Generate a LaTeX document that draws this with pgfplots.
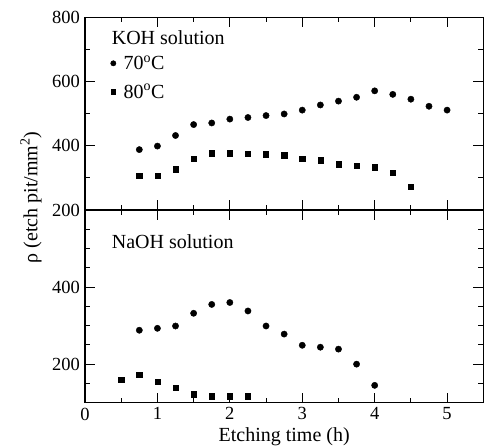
\documentclass[border=0pt]{standalone}
\usepackage{fontspec}
\setmainfont{Liberation Serif}
\usepackage{pgfplots}
\usepackage{pgfplotstable}
\pgfplotsset{compat=1.18}

\pgfplotstableread{
x y
0.75 388
1.00 399
1.25 432
1.50 466
1.75 471
2.00 483
2.25 488
2.50 494
2.75 499
3.00 511
3.25 527
3.50 539
3.75 551
4.00 571
4.25 560
4.50 545
4.75 523
5.00 511
}\kohA
\pgfplotstableread{
x y
0.75 306
1.00 306
1.25 327
1.50 360
1.75 377
2.00 377
2.25 376
2.50 374
2.75 371
3.00 360
3.25 355
3.50 343
3.75 338
4.00 333
4.25 316
4.50 272
}\kohB
\pgfplotstableread{
x y
0.75 288
1.00 293
1.25 299
1.50 332
1.75 355
2.00 360
2.25 338
2.50 299
2.75 278
3.00 249
3.25 244
3.50 239
3.75 200
4.00 145
}\naohA
\pgfplotstableread{
x y
0.50 160
0.75 172
1.00 155
1.25 139
1.50 122
1.75 117
2.00 117
2.25 117
}\naohB

\newcommand{\txtfont}{\fontsize{20}{24}\selectfont}
\newcommand{\tkfont}{\fontsize{18.5}{21}\selectfont}

\begin{document}
\begin{tikzpicture}
\pgfplotsset{
  every axis/.append style={
    scale only axis, width=398.3pt, height=192.7pt,
    xmin=0, xmax=5.5,
    xtick={0,1,2,3,4,5},
    minor xtick={0.5,1.5,2.5,3.5,4.5},
    axis line style={line width=1.2pt},
    every tick/.style={line width=1pt, black},
    major tick length=10pt, minor tick length=5pt,
    tick align=inside,
    xtick pos=both, ytick pos=both,
    ticklabel style={font=\tkfont},
    xticklabel style={yshift=-1.5pt},
    yticklabel style={xshift=-1.5pt},
    /pgf/number format/assume math mode=true,
    clip=false,
  },
  circ/.style={only marks, mark=*, mark size=3.15pt, black},
  sq/.style={only marks, mark=square*, mark size=2.65pt, black},
}
\begin{axis}[
  name=top,
  ymin=200, ymax=800,
  ytick={200,400,600,800},
  minor ytick={300,500,700},
  xticklabels={},
  legend style={at={(axis cs:0.31,691)}, anchor=north west, draw=none, fill=none,
    font=\txtfont, legend cell align=left, row sep=11pt, column sep=6.5pt,
    nodes={inner sep=1pt}},
  legend image code/.code={\draw[#1, /tikz/every mark/.append style={scale=0.85}] plot coordinates {(0.2cm,0cm)};},
]
\addplot[circ] table[x=x,y=y] {\kohA};
\addlegendentry{70\textsuperscript{o}C}
\addplot[sq] table[x=x,y=y] {\kohB};
\addlegendentry{80\textsuperscript{o}C}
\node[anchor=base west, font=\txtfont, inner sep=0pt] at (axis cs:0.368,714.7) {KOH solution};
\end{axis}
\begin{axis}[
  name=bot,
  at={(top.south west)}, anchor=north west,
  ymin=100, ymax=600,
  ytick={200,400},
  minor ytick={150,250,300,350,450,500,550},
  xlabel={Etching time (h)},
  xlabel style={font=\txtfont, at={(axis description cs:0.5,0)}, anchor=base, yshift=-38.4pt, inner sep=0pt},
]
\addplot[circ] table[x=x,y=y] {\naohA};
\addplot[sq] table[x=x,y=y] {\naohB};
\node[anchor=base west, font=\txtfont, inner sep=0pt] at (axis cs:0.368,500.9) {NaOH solution};
\end{axis}
\node[rotate=90, font=\txtfont, inner sep=0pt] at ([xshift=-54pt, yshift=12.5pt]top.south west) {ρ (etch pit/mm\textsuperscript{2})};
\pgfresetboundingbox
\path[use as bounding box] ([xshift=-85pt, yshift=17.3pt]top.north west) rectangle ([xshift=1.7pt, yshift=-43.7pt]bot.south east);
\end{tikzpicture}
\end{document}
